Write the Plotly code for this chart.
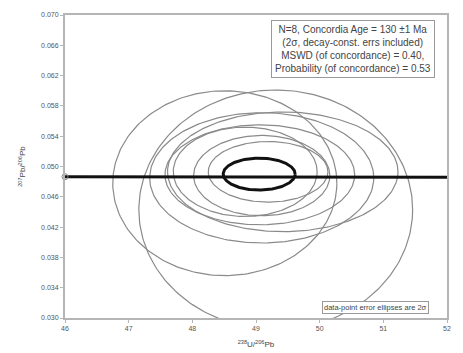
import numpy as np
import plotly.graph_objects as go

# Data-point 2-sigma error ellipses (centre x, centre y, semi-axis x, semi-axis y)
ell_cx = [49.31, 48.51, 49.09, 49.42, 49.06, 49.09, 49.19, 48.83]
ell_cy = [0.0443, 0.0478, 0.0485, 0.0493, 0.0489, 0.0488, 0.0493, 0.0493]
ell_ax = [2.15, 1.76, 1.76, 1.81, 1.49, 1.07, 0.94, 1.13]
ell_ay = [0.0158, 0.0122, 0.0086, 0.0079, 0.0066, 0.0053, 0.0040, 0.0059]

# Concordia age ellipse
conc_cx, conc_cy, conc_ax, conc_ay = 49.05, 0.0490, 0.565, 0.00211

# Concordia curve (238U/206Pb, 207Pb/206Pb)
concordia_x = [46.0, 47.0, 48.0, 49.0, 50.0, 51.0, 52.0]
concordia_y = [0.04865, 0.04864, 0.04863, 0.04862, 0.04861, 0.04860, 0.04859]

x_ticks = [46, 47, 48, 49, 50, 51, 52]
y_ticks = [0.030, 0.034, 0.038, 0.042, 0.046, 0.050, 0.054, 0.058, 0.062, 0.066, 0.070]

t = np.linspace(0, 2 * np.pi, 241)
fig = go.Figure()
for cx, cy, ax, ay in zip(ell_cx, ell_cy, ell_ax, ell_ay):
    fig.add_trace(go.Scatter(x=cx + ax * np.cos(t), y=cy + ay * np.sin(t), mode="lines",
                             line=dict(color="#8a8a8a", width=1.2), hoverinfo="skip"))

fig.add_trace(go.Scatter(x=concordia_x, y=concordia_y, mode="lines",
                         line=dict(color="#111111", width=3), hoverinfo="skip"))
fig.add_trace(go.Scatter(x=[concordia_x[0]], y=[concordia_y[0]], mode="markers",
                         marker=dict(symbol="circle-open", size=6, color="#888", line=dict(width=1)),
                         hoverinfo="skip", cliponaxis=False))
fig.add_trace(go.Scatter(x=conc_cx + conc_ax * np.cos(t), y=conc_cy + conc_ay * np.sin(t), mode="lines",
                         line=dict(color="#111111", width=3), hoverinfo="skip"))

axis_common = dict(showgrid=False, zeroline=False, showline=True, mirror=True, automargin=False,
                   linecolor="#b5b5b5", linewidth=2, ticks="outside", ticklen=3,
                   tickcolor="#b5b5b5", tickfont=dict(family="Liberation Sans", size=7, color="#555"))

# page body has an 8px default margin, so the figure is sized/offset to compensate
fig.update_layout(
    width=455, height=345,
    margin=dict(l=57, r=16, t=7, b=35),
    paper_bgcolor="white", plot_bgcolor="white",
    showlegend=False,
    xaxis=dict(range=[46, 52], tickvals=x_ticks, ticktext=[str(v) for v in x_ticks],
               title=dict(text="<sup>238</sup>U/<sup>206</sup>Pb", standoff=10,
                          font=dict(family="Liberation Sans", size=8, color="#444")),
               **axis_common),
    yaxis=dict(range=[0.030, 0.070], tickvals=y_ticks, tickformat=".3f",
               title=dict(text="<sup>207</sup>Pb/<sup>206</sup>Pb", standoff=14,
                          font=dict(family="Liberation Sans", size=8, color="#444")),
               **axis_common),
    annotations=[
        dict(xref="paper", yref="paper", x=0.754, y=0.983, xanchor="center", yanchor="top",
             text="N=8, Concordia Age = 130 ±1 Ma<br>(2σ, decay-const. errs included)<br>"
                  "MSWD (of concordance) = 0.40,<br>Probability (of concordance) = 0.53",
             showarrow=False, align="center", bgcolor="white", bordercolor="#999",
             borderwidth=1, borderpad=3,
             font=dict(family="Liberation Sans", size=10, color="#444")),
        dict(xref="paper", yref="paper", x=0.814, y=0.036, xanchor="center", yanchor="middle",
             text="data-point error ellipses are 2σ", showarrow=False, bgcolor="white",
             bordercolor="#999", borderwidth=1, borderpad=1,
             font=dict(family="Liberation Sans", size=7.5, color="#444")),
    ],
)

fig.write_html("out.html")
